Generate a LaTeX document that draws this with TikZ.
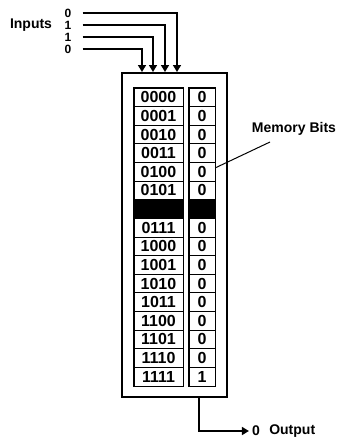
\documentclass[tikz,border=0pt]{standalone}
\usepackage{fontspec}
\setmainfont{Liberation Sans}
\usetikzlibrary{arrows.meta, positioning}

\begin{document}
\begin{tikzpicture}[
    x=1pt, y=-1pt,
    lbl/.style={font=\fontsize{14}{14}\selectfont\bfseries, inner sep=2pt},
    bitlbl/.style={font=\fontsize{12}{12}\selectfont\bfseries, inner sep=0pt},
    addrcell/.style={rectangle, draw, line width=0.9pt, minimum width=49pt, minimum height=18.6pt, inner sep=0pt, font=\fontsize{16}{16}\selectfont\bfseries},
    bitcell/.style={addrcell, minimum width=26pt},
    colframe/.style={line width=1.8pt},
    membox/.style={rectangle, draw, line width=2.6pt, minimum width=105pt, minimum height=324pt},
    feed/.style={-{Triangle[width=8pt, length=7pt]}, line width=1.6pt},
    leader/.style={line width=1pt}
]
    \useasboundingbox (0,0) rectangle (338,439);

    % Memory block
    \node[membox] (mem) at (174.5,235) {};

    % Address and bit columns
    \foreach \addr/\bit/\shade [count=\i from 0] in {0000/0/white, 0001/0/white, 0010/0/white, 0011/0/white, 0100/0/white, 0101/0/white, {}/{}/black, 0111/0/white, 1000/0/white, 1001/0/white, 1010/0/white, 1011/0/white, 1100/0/white, 1101/0/white, 1110/0/white, 1111/1/white} {
        \node[addrcell, fill=\shade] (a\i) at (158.5,{97.3+18.625*\i}) {\addr};
        \node[bitcell, fill=\shade] (b\i) at (202,{97.3+18.625*\i}) {\bit};
    }
    \draw[colframe] (a0.north west) rectangle (a15.south east);
    \draw[colframe] (b0.north west) rectangle (b15.south east);

    % Inputs
    \node[lbl] (inputs) at (31,25) {Inputs};
    \foreach \v/\yy/\xx [count=\k from 0] in {0/13/177, 1/25/165, 1/37/153, 0/49/142} {
        \node[bitlbl] (in\k) at (68,\yy) {\v};
        \coordinate (t\k) at (\xx,72);
        \draw[feed, shorten <=11pt] (in\k.east) -| (t\k);
    }

    % Memory bits label
    \node[lbl] (membits) at (294,129) {Memory Bits};
    \coordinate (lead) at (270,142);
    \draw[leader] ([yshift=4pt]b4.east) -- (lead);

    % Output
    \node[lbl, inner sep=3pt] (outval) at (256,431) {0};
    \node[lbl, right=4pt of outval] (outlbl) {Output};
    \coordinate (tap) at (199,397);
    \draw[feed] (tap) |- (outval.west);
\end{tikzpicture}
\end{document}
